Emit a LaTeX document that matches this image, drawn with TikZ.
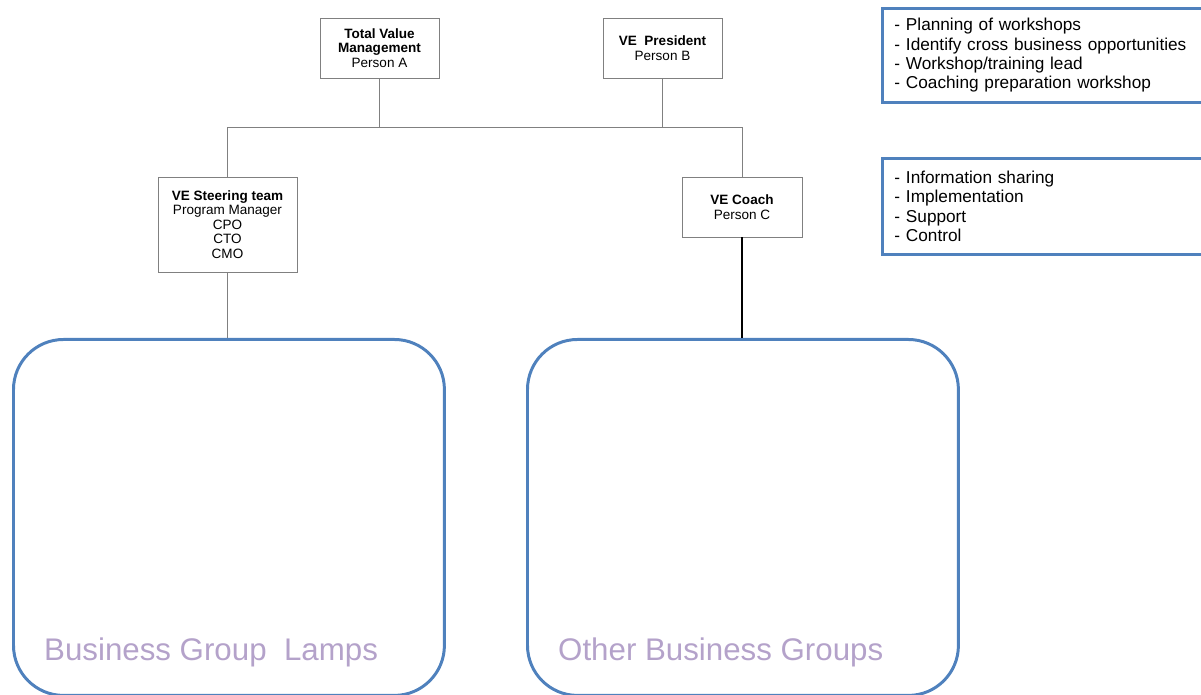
\documentclass[tikz,border=0pt]{standalone}
\usepackage{fontspec}
\setmainfont{Liberation Sans}
\usepackage{tikz}
\usetikzlibrary{positioning,shapes}
\definecolor{veblue}{RGB}{79,129,189}
\definecolor{velilac}{RGB}{180,162,202}
\tikzset{
	link/.style={draw=gray, line width=0.5pt},
	coach link/.style={draw=black, line width=0.9pt},
	groupbox/.style={draw=veblue, line width=1.7pt, rounded corners=1cm, minimum width=8.62cm, minimum height=7.12cm, anchor=north west},
	infobox/.style={draw=veblue, line width=1.7pt, anchor=north west, text width=6.3cm, align=left, inner xsep=0.24cm, font=\fontsize{9.8}{11}\selectfont}
}
\begin{document}
\begin{tikzpicture}[
			x=0.02cm, y=-0.02cm,
			orgbox/.style = {draw = gray, line width = 0.5pt, align = center, inner sep = 1mm, font = \fontsize{7.7}{8.3}\selectfont},
			grouplabel/.style = {anchor = west, text = velilac, font = \fontsize{17.8}{20}\selectfont},
		]
			\useasboundingbox (0,0) rectangle (1201,695);

			% top row
			\node [orgbox, minimum width = 2.38cm, minimum height = 1.2cm] (tvm) at (379.5, 48) {\textbf{Total Value}\\\textbf{Management}\\Person A};
			\node [orgbox, minimum width = 2.38cm, minimum height = 1.2cm] (vep) at (662.5, 48) {\textbf{VE\ \ President}\\Person B};

			% second row
			\node [orgbox, minimum width = 2.78cm, minimum height = 1.9cm] (steer) at (227.5, 224.5) {\textbf{VE Steering team}\\Program Manager\\CPO\\CTO\\CMO};
			\node [orgbox, minimum width = 2.4cm, minimum height = 1.2cm] (coach) at (742, 207) {\textbf{VE Coach}\\Person C};

			% business groups
			\node [groupbox] (lamps) at (12, 338) {};
			\node [groupbox] (others) at (526, 338) {};
			\node [grouplabel] (lampslbl) at (38, 652) {Business Group\ \ Lamps};
			\node [grouplabel] (otherslbl) at (552, 652) {Other Business Groups};

			% tasks
			\node [infobox, minimum height = 1.88cm] (tasksa) at (881, 7) {- Planning of workshops\\- Identify cross business opportunities\\- Workshop/training lead\\- Coaching preparation workshop};
			\node [infobox, minimum height = 1.92cm] (tasksb) at (881, 157) {- Information sharing\\- Implementation\\- Support\\- Control};

			% connectors
			\coordinate (jl) at (227.5, 127);
			\coordinate (jr) at (742, 127);
			\draw [link] (steer.north) -- (jl) -- (jr) -- (coach.north);
			\draw [link] (tvm.south) -- (tvm.south |- jl);
			\draw [link] (vep.south) -- (vep.south |- jl);
			\draw [link] (steer.south) -- (steer.south |- lamps.north);
			\draw [coach link] (coach.south) -- (coach.south |- others.north);
		\end{tikzpicture}
\end{document}
